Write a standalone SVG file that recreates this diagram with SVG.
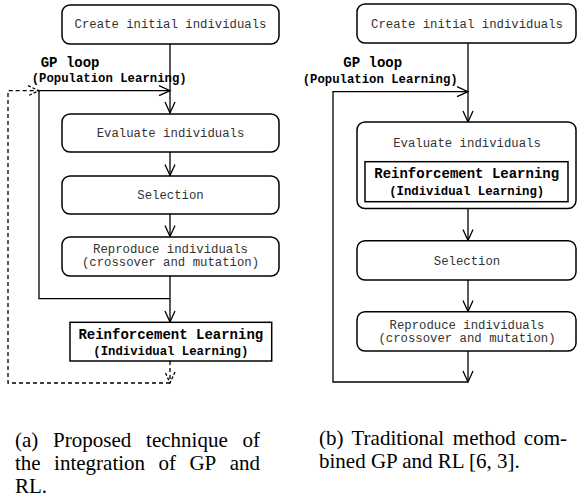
<svg xmlns="http://www.w3.org/2000/svg" width="577" height="501" viewBox="0 0 577 501">
<defs>
<marker id="arr" markerUnits="userSpaceOnUse" markerWidth="14" markerHeight="12" refX="12" refY="6" orient="auto" viewBox="0 0 14 12">
<path d="M1,1 L12,6 L1,11" fill="none" stroke="#000" stroke-width="1.3"/>
</marker>
<marker id="arrd" markerUnits="userSpaceOnUse" markerWidth="14" markerHeight="12" refX="12" refY="6" orient="auto" viewBox="0 0 14 12">
<path d="M1,1 L12,6 L1,11" fill="none" stroke="#000" stroke-width="1.3" stroke-dasharray="3 2"/>
</marker>
</defs>
<style>
.box{fill:#fff;stroke:#000;stroke-width:1.5}
.t{font-family:"Liberation Mono","Courier New",monospace;font-size:12.3px;fill:#333;text-anchor:middle}
.b{font-family:"Liberation Mono","Courier New",monospace;font-weight:bold;fill:#000}
.ln{fill:none;stroke:#000;stroke-width:1.3}
.dash{stroke-dasharray:4 3}
.cap{font-family:"Liberation Serif","Times New Roman",serif;font-size:21px;fill:#000}
</style>

<g id="connectors">
<path class="ln" d="M170,44 V113" marker-end="url(#arr)"/>
<path class="ln" d="M170,152 V175.5" marker-end="url(#arr)"/>
<path class="ln" d="M170,214 V236.5" marker-end="url(#arr)"/>
<path class="ln" d="M170,276 V322" marker-end="url(#arr)"/>
<path class="ln" d="M170,298.7 H39 V90.7 H170" marker-end="url(#arr)"/>
<path class="ln dash" d="M170,361 V383" marker-end="url(#arrd)"/>
<path class="ln dash" d="M170,383 H8 V90.7 H39" marker-end="url(#arrd)"/>

<path class="ln" d="M468,43 V122" marker-end="url(#arr)"/>
<path class="ln" d="M468,209 V240.5" marker-end="url(#arr)"/>
<path class="ln" d="M468,280 V311.5" marker-end="url(#arr)"/>
<path class="ln" d="M468,351 V382" marker-end="url(#arr)"/>
<path class="ln" d="M468,382 H333 V91.7 H468" marker-end="url(#arr)"/>
</g>

<g id="a-create">
<rect class="box" x="62" y="5" width="217" height="39" rx="8"/>
<text class="t" x="170.5" y="28.3">Create initial individuals</text>
</g>
<g id="a-gploop">
<text class="b" x="40.7" y="67.3" font-size="14">GP loop</text>
<text class="b" x="31.7" y="82" font-size="12.3">(Population Learning)</text>
</g>
<g id="a-evaluate">
<rect class="box" x="62" y="114" width="217" height="38" rx="8"/>
<text class="t" x="170.5" y="137.3">Evaluate individuals</text>
</g>
<g id="a-selection">
<rect class="box" x="62" y="176" width="217" height="38" rx="8"/>
<text class="t" x="170.5" y="199">Selection</text>
</g>
<g id="a-reproduce">
<rect class="box" x="62" y="237" width="217" height="39" rx="8"/>
<text class="t" x="170.5" y="253">Reproduce individuals</text>
<text class="t" x="170.5" y="266">(crossover and mutation)</text>
</g>
<g id="a-rl">
<rect class="box" x="70" y="322.3" width="201.7" height="38.7"/>
<text class="b" x="170.8" y="338.5" font-size="14" text-anchor="middle">Reinforcement Learning</text>
<text class="b" x="170.8" y="354.7" font-size="12.3" text-anchor="middle">(Individual Learning)</text>
</g>

<g id="b-create">
<rect class="box" x="357" y="4" width="219" height="39" rx="8"/>
<text class="t" x="467" y="28">Create initial individuals</text>
</g>
<g id="b-gploop">
<text class="b" x="343.3" y="67" font-size="14">GP loop</text>
<text class="b" x="302.7" y="83" font-size="12.3">(Population Learning)</text>
</g>
<g id="b-evaluate">
<rect class="box" x="357" y="122" width="219" height="86.5" rx="8"/>
<text class="t" x="467" y="146.7">Evaluate individuals</text>
</g>
<g id="b-rl">
<rect class="box" x="365" y="161.7" width="203" height="40"/>
<text class="b" x="466.7" y="177.8" font-size="14" text-anchor="middle">Reinforcement Learning</text>
<text class="b" x="466.7" y="194.7" font-size="12.3" text-anchor="middle">(Individual Learning)</text>
</g>
<g id="b-selection">
<rect class="box" x="357" y="240.7" width="219" height="39.3" rx="8"/>
<text class="t" x="467" y="265">Selection</text>
</g>
<g id="b-reproduce">
<rect class="box" x="357" y="311.7" width="219" height="39.3" rx="8"/>
<text class="t" x="467" y="328.5">Reproduce individuals</text>
<text class="t" x="467" y="341.5">(crossover and mutation)</text>
</g>

<g id="caption-a" class="cap">
<text x="15" y="447">(a)</text>
<text x="53.1" y="447">Proposed</text>
<text x="146.1" y="447">technique</text>
<text x="260" y="447" text-anchor="end">of</text>
<text x="15" y="470">the</text>
<text x="54.1" y="470">integration</text>
<text x="158.5" y="470">of</text>
<text x="189.4" y="470">GP</text>
<text x="260" y="470" text-anchor="end">and</text>
<text x="15" y="493">RL.</text>
</g>
<g id="caption-b" class="cap">
<text x="319" y="445">(b)</text>
<text x="351.5" y="445">Traditional</text>
<text x="452.8" y="445">method</text>
<text x="567" y="445" text-anchor="end">com-</text>
<text x="319" y="468">bined GP and RL [6, 3].</text>
</g>
</svg>
